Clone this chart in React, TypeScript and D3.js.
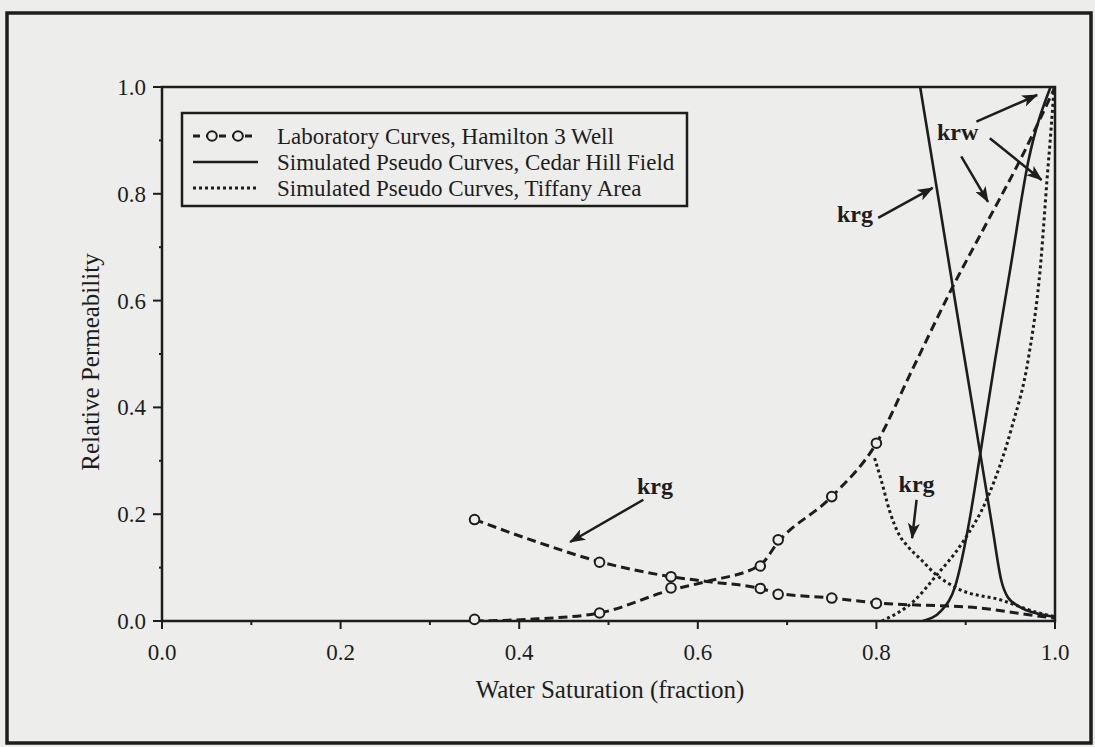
import React from "react";
import * as d3 from "d3";

// Laboratory curves, Hamilton 3 well: measured points (circles)
const labSw = [0.35, 0.49, 0.57, 0.67, 0.69, 0.75, 0.8];
const labKrg = [0.19, 0.11, 0.083, 0.061, 0.05, 0.043, 0.033];
const labKrw = [0.003, 0.015, 0.062, 0.103, 0.152, 0.233, 0.333];
// dashed lab curves
const labKrgLineSw = [0.35, 0.42, 0.49, 0.57, 0.61, 0.67, 0.69, 0.75, 0.8, 0.918, 0.961, 1.0];
const labKrgLine = [0.19, 0.148, 0.111, 0.083, 0.074, 0.061, 0.052, 0.043, 0.034, 0.024, 0.014, 0.005];
const labKrwLineSw = [0.35, 0.42, 0.49, 0.57, 0.61, 0.67, 0.69, 0.75, 0.8, 0.84, 0.884, 0.925, 0.963, 1.0];
const labKrwLine = [0.0, 0.004, 0.015, 0.058, 0.074, 0.105, 0.148, 0.233, 0.333, 0.47, 0.621, 0.75, 0.87, 1.0];

// Simulated pseudo curves, Cedar Hill field
const cedarKrgSw = [0.849, 0.87, 0.89, 0.91, 0.93, 0.94, 0.947, 0.96, 0.98, 1.0];
const cedarKrg = [1.0, 0.786, 0.58, 0.378, 0.174, 0.075, 0.045, 0.027, 0.014, 0.008];
const cedarKrwSw = [0.852, 0.873, 0.888, 0.903, 0.916, 0.933, 0.95, 0.97, 0.995];
const cedarKrw = [0.0, 0.02, 0.064, 0.177, 0.31, 0.49, 0.66, 0.86, 1.0];

// Simulated pseudo curves, Tiffany area
const tiffKrgSw = [0.798, 0.806, 0.815, 0.825, 0.835, 0.85, 0.866, 0.892, 0.94, 0.978, 1.0];
const tiffKrg = [0.305, 0.26, 0.205, 0.163, 0.14, 0.115, 0.088, 0.06, 0.039, 0.017, 0.008];
const tiffKrwSw = [0.806, 0.843, 0.866, 0.896, 0.925, 0.952, 0.97, 0.984, 0.991, 0.996, 0.999];
const tiffKrw = [0.0, 0.039, 0.083, 0.146, 0.233, 0.365, 0.49, 0.67, 0.825, 0.93, 1.0];

const legendLabels = [
  "Laboratory Curves, Hamilton 3 Well",
  "Simulated Pseudo Curves, Cedar Hill Field",
  "Simulated Pseudo Curves, Tiffany Area",
];

// annotations: label, label position, arrows [from, to] in data units
const notes = [
  { text: "krg", at: [0.552, 0.238], arrows: [[[0.539, 0.227], [0.457, 0.148]]] },
  { text: "krg", at: [0.776, 0.747], arrows: [[[0.802, 0.755], [0.863, 0.811]]] },
  {
    text: "krw",
    at: [0.891, 0.901],
    arrows: [
      [[0.912, 0.935], [0.98, 0.985]],
      [[0.895, 0.87], [0.925, 0.785]],
      [[0.927, 0.904], [0.985, 0.826]],
    ],
  },
  { text: "krg", at: [0.845, 0.242], arrows: [[[0.845, 0.227], [0.84, 0.155]]] },
];

const ink = "#1d1d1d";
const paper = "#ededeb";
const font = "'Liberation Serif', 'Times New Roman', serif";

export default function App() {
  const W = 1095;
  const H = 747;
  const x = d3.scaleLinear().domain([0, 1]).range([162, 1055]);
  const y = d3.scaleLinear().domain([0, 1]).range([621, 87]);

  const path = (xs: number[], ys: number[]) =>
    d3
      .line<number>()
      .x((d, i) => x(xs[i]))
      .y((d) => y(d))
      .curve(d3.curveMonotoneX)(ys) || "";

  const ticks = d3.range(0, 11).map((i) => i / 10);
  const fmt = d3.format(".1f");

  const dashed = { fill: "none", stroke: ink, strokeWidth: 3, strokeDasharray: "9 5" };
  const solid = { fill: "none", stroke: ink, strokeWidth: 2.6 };
  const dotted = { fill: "none", stroke: ink, strokeWidth: 3, strokeDasharray: "3 3" };

  const legX = 182;
  const legY = 113;
  const rows = [136, 162, 188];

  return (
    <div style={{ position: "fixed", left: 0, top: 0 }}>
      <svg width={W} height={H} style={{ display: "block" }}>
        <defs>
          <clipPath id="plot">
            <rect x={x(0)} y={y(1)} width={x(1) - x(0)} height={y(0) - y(1)} />
          </clipPath>
          <marker
            id="head"
            viewBox="0 0 16 12"
            refX={15}
            refY={6}
            markerWidth={16}
            markerHeight={12}
            markerUnits="userSpaceOnUse"
            orient="auto"
          >
            <path d="M0,0 L16,6 L0,12 L4,6 Z" fill={ink} />
          </marker>
        </defs>
        <rect x={0} y={0} width={W} height={H} fill={paper} />
        <rect x={7} y={13} width={1084} height={730} fill="none" stroke={ink} strokeWidth={3.5} />

        {/* plot frame */}
        <rect x={x(0)} y={y(1)} width={x(1) - x(0)} height={y(0) - y(1)} fill="none" stroke={ink} strokeWidth={2.5} />

        {/* y ticks */}
        {ticks.map((t, i) => (
          <line key={"yt" + i} x1={x(0) - (i % 2 === 0 ? 9 : 3)} x2={x(0)} y1={y(t)} y2={y(t)} stroke={ink} strokeWidth={2} />
        ))}
        {ticks.filter((t, i) => i % 2 === 0).map((t, i) => (
          <text key={"yl" + i} x={x(0) - 16} y={y(t)} dy="0.35em" textAnchor="end" fontFamily={font} fontSize={23} fill={ink}>
            {fmt(t)}
          </text>
        ))}
        {/* x ticks */}
        {ticks.map((t, i) => (
          <line key={"xt" + i} x1={x(t)} x2={x(t)} y1={y(0)} y2={y(0) + (i % 2 === 0 ? 8 : 4)} stroke={ink} strokeWidth={2} />
        ))}
        {ticks.filter((t, i) => i % 2 === 0).map((t, i) => (
          <text key={"xl" + i} x={x(t)} y={652} dy="0.35em" textAnchor="middle" fontFamily={font} fontSize={23} fill={ink}>
            {fmt(t)}
          </text>
        ))}

        <text x={610} y={689} dy="0.35em" textAnchor="middle" fontFamily={font} fontSize={25} fill={ink}>
          Water Saturation (fraction)
        </text>
        <text transform="translate(90,362) rotate(-90)" dy="0.35em" textAnchor="middle" fontFamily={font} fontSize={25} fill={ink}>
          Relative Permeability
        </text>

        {/* curves */}
        <g clipPath="url(#plot)">
          <path d={path(labKrgLineSw, labKrgLine)} style={dashed} />
          <path d={path(labKrwLineSw, labKrwLine)} style={dashed} />
          <path d={path(cedarKrgSw, cedarKrg)} style={solid} />
          <path d={path(cedarKrwSw, cedarKrw)} style={solid} />
          <path d={path(tiffKrgSw, tiffKrg)} style={dotted} />
          <path d={path(tiffKrwSw, tiffKrw)} style={dotted} />
        </g>
        {labSw.map((s, i) => (
          <g key={"c" + i}>
            <circle cx={x(s)} cy={y(labKrg[i])} r={4.8} fill={paper} stroke={ink} strokeWidth={2} />
            <circle cx={x(s)} cy={y(labKrw[i])} r={4.8} fill={paper} stroke={ink} strokeWidth={2} />
          </g>
        ))}

        {/* annotations */}
        {notes.map((n, i) => (
          <g key={"n" + i}>
            <text x={x(n.at[0])} y={y(n.at[1])} textAnchor="middle" fontFamily={font} fontWeight="bold" fontSize={24} fill={ink}>
              {n.text}
            </text>
            {n.arrows.map((a, j) => (
              <line
                key={j}
                x1={x(a[0][0])}
                y1={y(a[0][1])}
                x2={x(a[1][0])}
                y2={y(a[1][1])}
                stroke={ink}
                strokeWidth={2.5}
                markerEnd="url(#head)"
              />
            ))}
          </g>
        ))}

        {/* legend */}
        <rect x={legX} y={legY} width={505} height={93} fill={paper} stroke={ink} strokeWidth={2.5} />
        <line x1={193} x2={258} y1={rows[0]} y2={rows[0]} style={{ ...dashed, strokeDasharray: "7 6" }} />
        <circle cx={212} cy={rows[0]} r={4.8} fill={paper} stroke={ink} strokeWidth={2} />
        <circle cx={238} cy={rows[0]} r={4.8} fill={paper} stroke={ink} strokeWidth={2} />
        <line x1={193} x2={258} y1={rows[1]} y2={rows[1]} style={solid} />
        <line x1={193} x2={258} y1={rows[2]} y2={rows[2]} style={dotted} />
        {legendLabels.map((l, i) => (
          <text key={l} x={277} y={rows[i]} dy="0.35em" fontFamily={font} fontSize={23} fill={ink}>
            {l}
          </text>
        ))}
      </svg>
    </div>
  );
}
